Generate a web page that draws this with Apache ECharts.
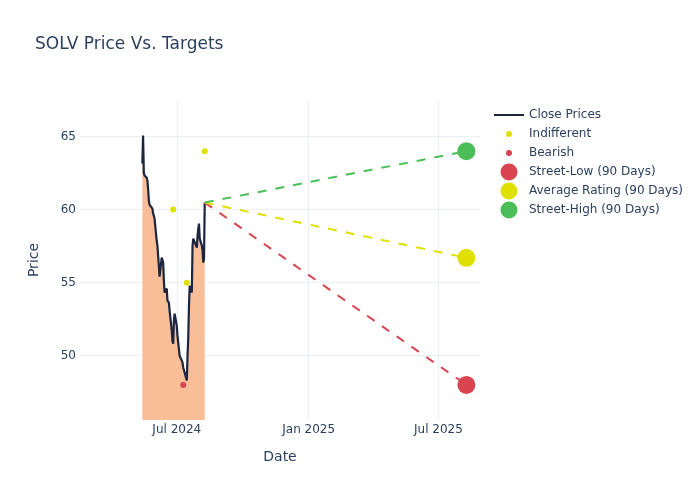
<!DOCTYPE html>
<html><head><meta charset="utf-8">
<script src="https://cdn.jsdelivr.net/npm/echarts@6/dist/echarts.min.js"></script>
<style>html,body{margin:0;padding:0;background:#fff}#c{width:700px;height:500px}</style>
</head><body><div id="c"></div>
<script>
const closeDates = [
  '2024-05-14','2024-05-15','2024-05-16','2024-05-17','2024-05-20','2024-05-21','2024-05-22','2024-05-23','2024-05-24',
  '2024-05-28','2024-05-29','2024-05-30','2024-05-31',
  '2024-06-03','2024-06-04','2024-06-05','2024-06-06','2024-06-07','2024-06-10','2024-06-11','2024-06-12','2024-06-13','2024-06-14',
  '2024-06-17','2024-06-18','2024-06-20','2024-06-21','2024-06-24','2024-06-25','2024-06-26','2024-06-27','2024-06-28',
  '2024-07-01','2024-07-02','2024-07-03','2024-07-05','2024-07-08','2024-07-09','2024-07-10','2024-07-11','2024-07-12',
  '2024-07-15','2024-07-16','2024-07-17','2024-07-18','2024-07-19','2024-07-22','2024-07-23','2024-07-24','2024-07-25','2024-07-26',
  '2024-07-29','2024-07-30','2024-07-31','2024-08-01','2024-08-02','2024-08-05','2024-08-06','2024-08-07','2024-08-08','2024-08-09'
];
const closePrices = [
  63.15, 65.07, 62.53, 62.33, 62.19, 61.99, 61.44, 60.62, 60.34,
  60.07, 59.73, 59.59, 59.38,
  57.88, 57.53, 56.85, 56.16, 55.41, 56.71, 56.64, 56.37, 55.14, 54.32,
  54.59, 53.77, 53.63, 53.08, 51.71, 51.03, 50.82, 52.40, 52.88,
  52.05, 51.37, 50.89, 50.00, 49.66, 49.52, 49.18, 49.25, 48.84,
  48.30, 50.00, 51.20, 53.40, 54.79, 54.32, 57.53, 58.01, 58.08, 57.88,
  57.40, 58.22, 58.70, 59.04, 58.01, 57.53, 57.19, 56.37, 56.64, 60.48
];
const indifferentDates = ['2024-06-26', '2024-07-15', '2024-08-09'];
const indifferentTargets = [60, 55, 64];
const bearishDates = ['2024-07-10'];
const bearishTargets = [48];
const targetDate = '2025-08-09';
const targetNames = ['Street-Low (90 Days)', 'Average Rating (90 Days)', 'Street-High (90 Days)'];
const targetValues = [48, 56.7, 64];
const xTickDates = ['2024-07-01', '2025-01-01', '2025-07-01'];
const xTickLabels = ['Jul 2024', 'Jan 2025', 'Jul 2025'];
const yTicks = [50, 55, 60, 65];

const TXT = '#2a3f5f';
const FONT = 'DejaVu Sans';
const GRID = '#ebf0f8';
const NAVY = '#1c2540';
const FILL = '#f9bd98';
const RED = '#d8444f', YEL = '#e0e000', GRN = '#4cbe58';
const targetColors = [RED, YEL, GRN];

const ts = d => new Date(d + 'T00:00:00Z').getTime();
const lastDate = closeDates[closeDates.length - 1];
const lastPrice = closePrices[closePrices.length - 1];
const xTickTs = xTickDates.map(ts);

const lineIcon = 'path://M0,0M30,18M0,8h30v2h-30z';
const smallDot = 'path://M0,0M30,18M12,9a3,3 0 1,0 6,0a3,3 0 1,0 -6,0z';
const bigDot = 'path://M0,0M30,18M6.5,9a8.5,8.5 0 1,0 17,0a8.5,8.5 0 1,0 -17,0z';

const series = [
  {
    name: 'Close Prices', type: 'line', showSymbol: false, z: 2,
    data: closeDates.map((d, i) => [ts(d), closePrices[i]]),
    itemStyle: { color: NAVY },
    lineStyle: { color: NAVY, width: 2.2 },
    areaStyle: { color: FILL, opacity: 1, origin: 'start' },
    markLine: {
      silent: true, symbol: 'none', animation: false, label: { show: false }, z: 1,
      lineStyle: { color: GRID, width: 1, type: 'solid' },
      data: yTicks.map(v => ({ yAxis: v })).concat(xTickTs.map(v => ({ xAxis: v })))
    }
  }
];
targetNames.forEach((n, i) => {
  series.push({
    name: n + ' line', type: 'line', showSymbol: false, silent: true, z: 3,
    data: [[ts(lastDate), lastPrice], [ts(targetDate), targetValues[i]]],
    lineStyle: { color: targetColors[i], width: 2, type: [9, 9] },
    itemStyle: { color: targetColors[i] }
  });
});
series.push({
  name: 'Indifferent', type: 'scatter', symbolSize: 6, z: 4,
  data: indifferentDates.map((d, i) => [ts(d), indifferentTargets[i]]),
  itemStyle: { color: YEL, opacity: 1 }
});
series.push({
  name: 'Bearish', type: 'scatter', symbolSize: 6, z: 4,
  data: bearishDates.map((d, i) => [ts(d), bearishTargets[i]]),
  itemStyle: { color: RED, opacity: 1 }
});
targetNames.forEach((n, i) => {
  series.push({
    name: n, type: 'scatter', symbolSize: 18, z: 5,
    data: [[ts(targetDate), targetValues[i]]],
    itemStyle: { color: targetColors[i], opacity: 1 }
  });
});

const option = {
  animation: false,
  backgroundColor: '#fff',
  title: {
    text: 'SOLV Price Vs. Targets', left: 35, top: 36, padding: 0,
    textStyle: { fontFamily: FONT, fontSize: 17, fontWeight: 'normal', color: TXT }
  },
  legend: {
    orient: 'vertical', left: 494, top: 106, padding: 0,
    itemWidth: 30, itemHeight: 18, itemGap: 1,
    itemStyle: { borderWidth: 0 },
    textStyle: { fontFamily: FONT, fontSize: 12, color: TXT },
    data: [
      { name: 'Close Prices', icon: lineIcon },
      { name: 'Indifferent', icon: smallDot },
      { name: 'Bearish', icon: smallDot },
      { name: targetNames[0], icon: bigDot },
      { name: targetNames[1], icon: bigDot },
      { name: targetNames[2], icon: bigDot }
    ]
  },
  grid: { left: 80, right: 220, top: 100, bottom: 80, containLabel: false },
  xAxis: {
    type: 'value',
    min: ts('2024-02-17'), max: ts('2025-08-28'),
    name: 'Date', nameLocation: 'middle', nameGap: 30,
    nameTextStyle: { fontFamily: FONT, fontSize: 14, color: TXT },
    axisLine: { show: false }, axisTick: { show: false },
    axisLabel: {
      customValues: xTickTs,
      margin: 4, fontFamily: FONT, fontSize: 12, color: TXT,
      formatter: v => { const k = xTickTs.indexOf(v); return k >= 0 ? xTickLabels[k] : ''; }
    },
    splitLine: { show: false }
  },
  yAxis: {
    type: 'value', min: 45.6, max: 67.5,
    name: 'Price', nameLocation: 'middle', nameGap: 39,
    nameTextStyle: { fontFamily: FONT, fontSize: 14, color: TXT },
    axisLine: { show: false }, axisTick: { show: false },
    axisLabel: { customValues: yTicks, margin: 4, fontFamily: FONT, fontSize: 12, color: TXT },
    splitLine: { show: false }
  },
  series: series
};

const chart = echarts.init(document.getElementById('c'), null, { renderer: 'canvas' });
chart.setOption(option);
</script>
</body></html>
